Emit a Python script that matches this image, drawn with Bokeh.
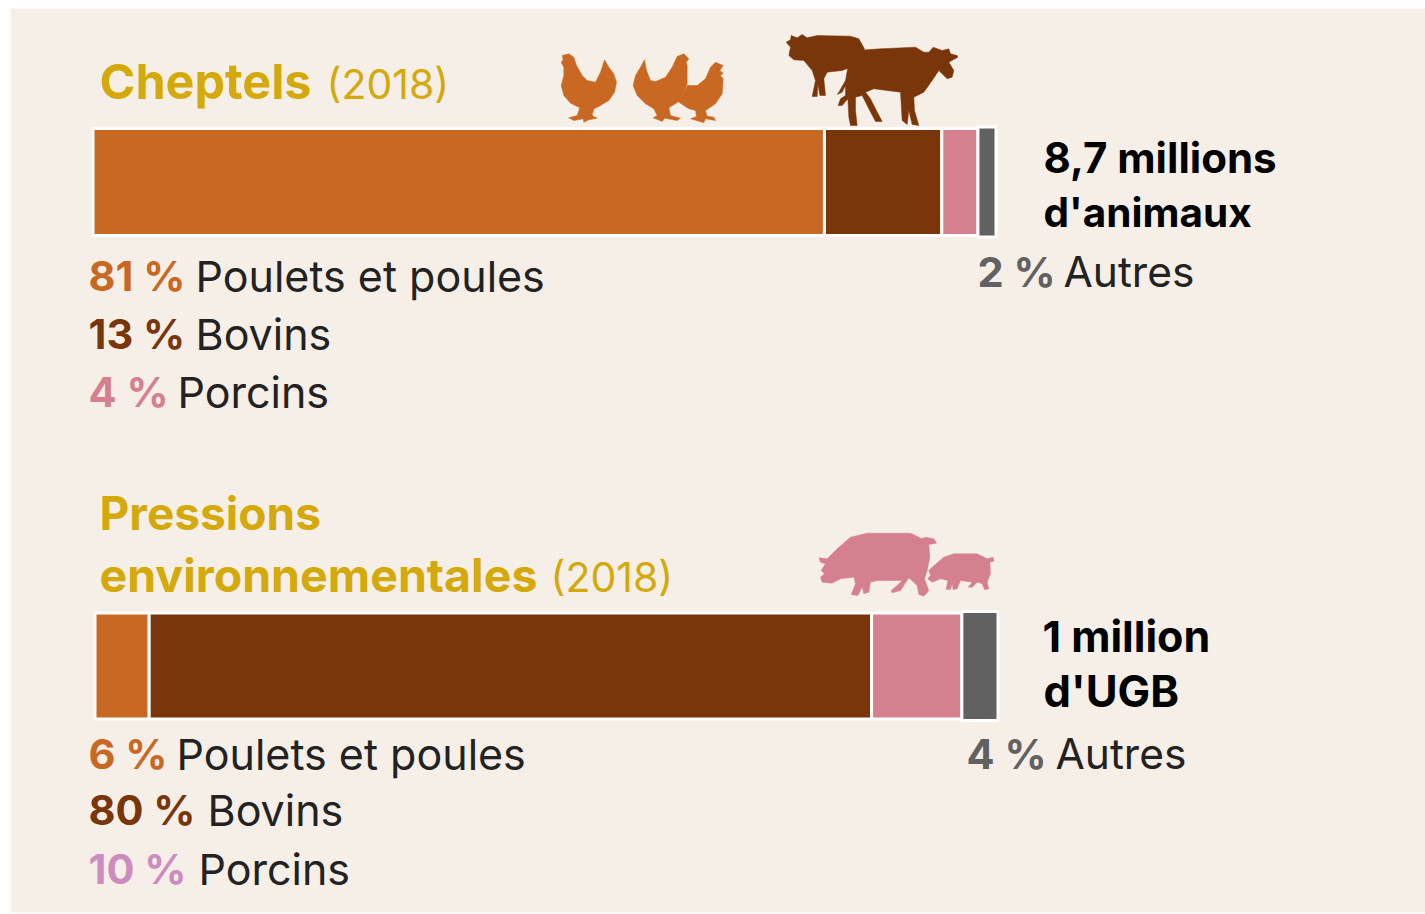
from bokeh.plotting import figure
from bokeh.models import Range1d
from bokeh.core.properties import value
from bokeh.embed import file_html
from bokeh.resources import INLINE

categories = ["Poulets et poules", "Bovins", "Porcins", "Autres"]
cheptels = [81, 13, 4, 2]
pressions = [6, 80, 10, 4]
colors = ["#C96823", "#78360A", "#D5808F", "#616161"]
pct_colors_2 = ["#C96823", "#78360A", "#CC8CC0", "#616161"]
GOLD = "#D4A90B"; BG = "#F5EFE8"; INK = "#222222"
FONT = "Inter"
BASE_FIX = 0.39   # the page's text sits this many em below the y it is given

W, H = 1425, 914
BAR_PX = 903.0  # width of 100 %
X0 = 93.0

def sx(px):
    return (px - X0) / BAR_PX * 100.0

p = figure(width=W, height=H, output_backend="svg", toolbar_location=None,
           x_range=Range1d(sx(0), sx(W)), y_range=Range1d(H, 0),
           min_border=0, outline_line_color=None, background_fill_color="#FFFFFF",
           border_fill_color="#FFFFFF")
p.axis.visible = False
p.grid.visible = False

# panel
p.quad(left=[sx(10)], right=[sx(W)], top=[8], bottom=[912], fill_color=BG, line_color=None)

def stacked(vals, offset_px, yc, h):
    left = sx(offset_px)
    ls, rs = [], []
    for v in vals:
        ls.append(left); rs.append(left + v); left += v
    p.hbar(y=[yc] * len(vals), left=ls, right=rs, height=[h, h, h, h + 3], fill_color=colors,
           line_color="#FFFFFF", line_width=3)

stacked(cheptels, 92.5, 181.5, 107)
stacked(pressions, 94.5, 665.5, 106)

def txt(x, y, s, color, size, bold=False):
    p.text(x=[sx(x - 2)], y=[y - BASE_FIX * size], text=[s], text_color=color, text_font=value(FONT),
           text_font_size=f"{size}px", text_font_style="bold" if bold else "normal",
           text_baseline="alphabetic", text_align="left")

def pct(v):
    return f"{v} %"

# titles
txt(101, 100, "Cheptels", GOLD, 48.5, True)
txt(328, 99, "(2018)", GOLD, 41)
txt(101, 530, "Pressions", GOLD, 46, True)
txt(101, 593, "environnementales", GOLD, 46.5, True)
txt(552, 592, "(2018)", GOLD, 41)

# first block
for (v, c, cat, yb, xl) in zip(cheptels[:3], colors[:3], categories[:3], [292, 350, 408], [197, 197, 179]):
    txt(90, yb, pct(v), c, 41.5, True)
    txt(xl, yb, cat, INK, 43)
txt(979, 288, pct(cheptels[3]), colors[3], 41.5, True)
txt(1065, 288, categories[3], INK, 42.5)
txt(1045, 173, "8,7 millions", "#000000", 42, True)
txt(1045, 228, "d'animaux", "#000000", 40.5, True)

# second block
for (v, c, cat, yb, xl) in zip(pressions[:3], pct_colors_2[:3], categories[:3], [770, 826, 885], [178, 209, 200]):
    txt(90, yb, pct(v), c, 41.5, True)
    txt(xl, yb, cat, INK, 43)
txt(968, 770, pct(pressions[3]), colors[3], 41.5, True)
txt(1057, 770, categories[3], INK, 42.5)
txt(1044, 652, "1 million", "#000000", 43, True)
txt(1045, 707, "d'UGB", "#000000", 43.5, True)

# silhouettes, traced at 3x from the picture: (origin x, origin y, outline)
hen1 = [(65,105),(85,100),(100,110),(108,135),(125,165),(140,180),(165,185),(180,155),(192,118),(205,140),(220,160),(228,185),(222,215),(205,240),(175,258),(160,265),(155,285),(170,293),(145,298),(130,305),(128,295),(100,300),(85,292),(110,285),(118,262),(90,248),(70,225),(62,195),(70,165),(70,140),(62,125),(68,118)]
hen2 = [(445,115),(430,100),(410,108),(395,140),(375,170),(345,183),(330,180),(318,150),(312,118),(300,140),(285,165),(278,195),(290,225),(315,250),(340,265),(350,285),(338,292),(365,303),(372,293),(410,300),(420,293),(390,285),(385,262),(420,240),(440,190),(440,135),(437,125)]
hen3 = [(548,135),(525,125),(510,140),(495,175),(470,195),(440,195),(415,245),(445,265),(465,270),(468,288),(450,295),(490,307),(495,295),(525,300),(520,290),(500,287),(495,270),(525,250),(545,220),(548,175),(540,165),(548,158),(538,150)]
cow_back = [(737,65),(750,58),(752,45),(770,52),(785,42),(800,52),(830,45),(930,47),(955,55),(972,85),(960,130),(905,150),(860,155),(850,175),(855,225),(838,225),(832,190),(830,228),(815,228),(825,180),(815,150),(790,120),(760,118),(745,105),(750,80)]
cow_front = [(1250,105),(1230,100),(1225,85),(1205,90),(1178,80),(1165,95),(1150,95),(1125,80),(1020,85),(975,88),(950,95),(925,125),(915,180),(895,215),(890,222),(905,215),(915,195),(915,225),(900,235),(893,255),(905,255),(922,235),(925,290),(930,315),(950,315),(945,270),(945,230),(965,225),(985,265),(1005,303),(1025,303),(1005,265),(990,235),(975,215),(1000,205),(1080,215),(1085,300),(1100,312),(1105,270),(1115,312),(1135,315),(1122,270),(1120,230),(1150,215),(1175,180),(1195,150),(1220,175),(1235,170),(1240,150),(1225,125),(1252,110)]
pig_big = [(55,112),(80,115),(110,85),(150,50),(200,38),(330,38),(365,55),(375,50),(400,55),(408,68),(385,72),(388,110),(380,150),(372,175),(385,210),(370,227),(355,222),(350,195),(325,172),(300,210),(275,217),(272,210),(290,195),(305,180),(230,180),(210,185),(205,215),(190,220),(185,200),(172,225),(152,222),(165,190),(160,170),(120,175),(95,188),(65,185),(60,170),(72,160),(62,150),(75,130),(60,125)]
pig_small = [(385,150),(395,140),(430,110),(460,100),(530,100),(560,115),(578,110),(580,122),(568,125),(570,160),(560,185),(565,205),(552,208),(545,190),(530,185),(515,200),(503,200),(515,185),(480,180),(470,205),(458,208),(455,190),(450,207),(437,207),(442,180),(420,175),(395,185),(382,175),(390,165)]

def icon(outline, ox, oy, color):
    p.patch([sx(ox + a / 3) for a, b in outline], [oy + b / 3 for a, b in outline],
            fill_color=color, line_color=color, line_width=0.5)

for o in (hen1, hen2, hen3):
    icon(o, 540, 20, colors[0])
for o in (cow_back, cow_front):
    icon(o, 540, 20, colors[1])
for o in (pig_big, pig_small):
    icon(o, 800, 520, colors[2])

open("out.html", "w").write(file_html(p, INLINE))
